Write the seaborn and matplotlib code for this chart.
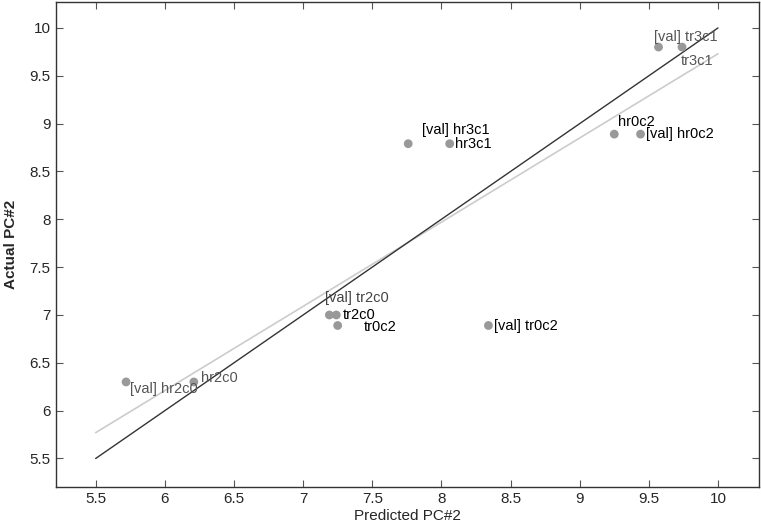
import matplotlib
matplotlib.use("Agg")
import matplotlib.pyplot as plt
import seaborn as sns
import pandas as pd

# Predicted vs actual PC#2 values
labels = ['[val] hr2c0', 'hr2c0', '[val] tr2c0', 'tr2c0', 'tr0c2', '[val] tr0c2',
          '[val] hr3c1', 'hr3c1', 'hr0c2', '[val] hr0c2', '[val] tr3c1', 'tr3c1']
predicted = [5.72, 6.21, 7.19, 7.24, 7.25, 8.34, 7.76, 8.06, 9.25, 9.44, 9.57, 9.74]
actual = [6.30, 6.30, 7.00, 7.00, 6.89, 6.89, 8.79, 8.79, 8.89, 8.89, 9.80, 9.80]
label_colors = ['#555555', '#555555', '#444444', 'black', 'black', 'black',
                'black', 'black', 'black', 'black', '#555555', '#555555']
# label offsets in points (dx, dy)
label_offsets = [(3, -5), (5, 3), (-3, 12), (5, 0), (19, -1), (4, 0),
                 (10, 10), (4, 0), (3, 9), (4, 0), (-3, 7), (-1, -10)]

# identity line and fitted line
diag_x = [5.5, 10]
diag_y = [5.5, 10]
fit_x = [5.5, 10]
fit_y = [5.77, 9.73]

df = pd.DataFrame({'Predicted': predicted, 'Actual': actual, 'Label': labels})

sns.set_style('ticks')
plt.rcParams['font.family'] = ['Liberation Sans', 'DejaVu Sans']

fig, ax = plt.subplots(figsize=(7.61, 5.25), dpi=100)

sns.lineplot(x=fit_x, y=fit_y, ax=ax, color='#cccccc', linewidth=1.2)
sns.lineplot(x=diag_x, y=diag_y, ax=ax, color='#333333', linewidth=1.0)
sns.scatterplot(data=df, x='Predicted', y='Actual', ax=ax, color='#999999',
                s=40, edgecolor='none', zorder=3)

for lab, px, py, c, off in zip(labels, predicted, actual, label_colors, label_offsets):
    ax.annotate(lab, (px, py), xytext=off, textcoords='offset points',
                fontsize=10.5, color=c, va='center', ha='left')

ax.set_xlim(5.21, 10.30)
ax.set_ylim(5.20, 10.27)
ax.set_xticks([5.5, 6, 6.5, 7, 7.5, 8, 8.5, 9, 9.5, 10])
ax.set_xticklabels(['5.5', '6', '6.5', '7', '7.5', '8', '8.5', '9', '9.5', '10'])
ax.set_yticks([5.5, 6, 6.5, 7, 7.5, 8, 8.5, 9, 9.5, 10])
ax.set_yticklabels(['5.5', '6', '6.5', '7', '7.5', '8', '8.5', '9', '9.5', '10'])
ax.tick_params(direction='in', top=True, right=True, length=5, labelsize=11,
               color='#555555')
for sp in ax.spines.values():
    sp.set_color('#333333')
    sp.set_linewidth(1.0)

ax.set_xlabel('Predicted PC#2', fontsize=11, labelpad=2)
ax.set_ylabel('Actual PC#2', fontsize=11, fontweight='bold', labelpad=8)

fig.subplots_adjust(left=0.073, right=0.998, top=0.996, bottom=0.072)
fig.savefig('out.png', dpi=100)
